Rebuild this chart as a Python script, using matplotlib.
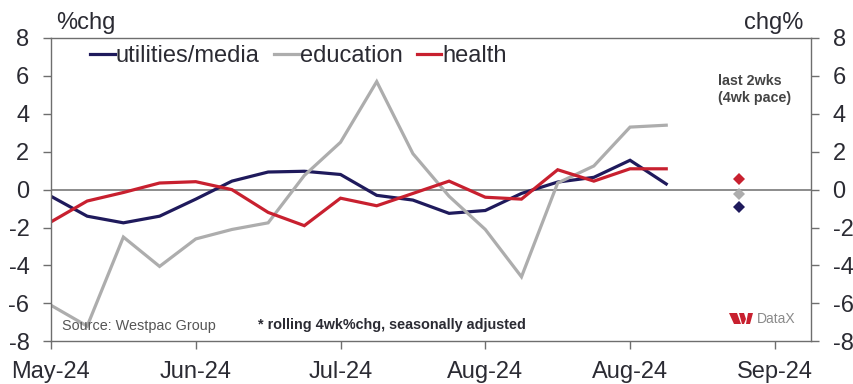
import matplotlib
matplotlib.use('Agg')
import matplotlib.pyplot as plt
from matplotlib.patches import Polygon

plt.rcParams['font.family'] = ['Liberation Sans', 'DejaVu Sans']
plt.rcParams['axes.unicode_minus'] = False

weeks = list(range(18))
utilities = [-0.35, -1.4, -1.75, -1.4, -0.5, 0.45, 0.93, 0.97, 0.8, -0.3, -0.55, -1.25, -1.1, -0.2, 0.4, 0.65, 1.55, 0.3]
education = [-6.1, -7.2, -2.5, -4.05, -2.6, -2.1, -1.75, 0.75, 2.5, 5.7, 1.9, -0.35, -2.1, -4.6, 0.35, 1.25, 3.3, 3.4]
health = [-1.7, -0.6, -0.15, 0.35, 0.42, 0.0, -1.2, -1.9, -0.45, -0.85, -0.2, 0.45, -0.4, -0.5, 1.05, 0.45, 1.1, 1.1]

pace_week = 19
pace_utilities = -0.9
pace_education = -0.25
pace_health = 0.55

month_ticks = [0, 4, 8, 12, 16, 20]
month_labels = ['May-24', 'Jun-24', 'Jul-24', 'Aug-24', 'Aug-24', 'Sep-24']
y_ticks = [-8, -6, -4, -2, 0, 2, 4, 6, 8]

navy = '#1f1a5c'
grey = '#adadad'
red = '#c8202f'
axis_col = '#6e6e6e'
text_col = '#2b2b33'

W, H = 854, 384
fig = plt.figure(figsize=(W / 100, H / 100), dpi=100)
ax = fig.add_axes([51 / W, 1 - 341.3 / H, 760 / W, 303.3 / H])

ax.axhline(0, color=axis_col, lw=1.1, zorder=1)
ax.plot(weeks, utilities, color=navy, lw=2.3, label='utilities/media', solid_joinstyle='miter')
ax.plot(weeks, education, color=grey, lw=2.3, label='education', solid_joinstyle='miter')
ax.plot(weeks, health, color=red, lw=2.3, label='health', solid_joinstyle='miter')

ax.plot(pace_week, pace_health, 'D', color=red, ms=6.5, mew=0)
ax.plot(pace_week, pace_education, 'D', color=grey, ms=6.5, mew=0)
ax.plot(pace_week, pace_utilities, 'D', color=navy, ms=6.5, mew=0)

ax.set_xlim(0, 21)
ax.set_ylim(-8, 8)
ax.set_xticks(month_ticks)
ax.set_xticklabels(month_labels)
ax.set_yticks(y_ticks)
ax.tick_params(axis='x', length=5.5, width=1, color=axis_col, labelsize=17, labelcolor=text_col, pad=9)
ax.tick_params(axis='y', length=5.5, width=1, color=axis_col, labelsize=17, labelcolor=text_col, pad=10)
for s in ax.spines.values():
    s.set_color(axis_col)
    s.set_linewidth(1)

ax2 = ax.twinx()
ax2.set_ylim(-8, 8)
ax2.set_yticks(y_ticks)
ax2.tick_params(axis='y', length=5.5, width=1, color=axis_col, labelsize=17, labelcolor=text_col, pad=10)
for s in ax2.spines.values():
    s.set_visible(False)

ax.legend(loc='upper left', bbox_to_anchor=(0.023, 1.046), ncol=3, frameon=False, fontsize=17,
          handlelength=1.05, handletextpad=0.05, columnspacing=0.6, labelcolor=text_col)

fig.text(56 / W, 1 - 23 / H, '%chg', fontsize=17, color=text_col, va='center')
fig.text(803 / W, 1 - 23 / H, 'chg%', fontsize=17, color=text_col, va='center', ha='right')
fig.text(62 / W, 1 - 326 / H, 'Source: Westpac Group', fontsize=10.4, color='#555555', va='center')
fig.text(258 / W, 1 - 325.5 / H, '* rolling 4wk%chg, seasonally adjusted', fontsize=10.4, fontweight='bold',
         color=text_col, va='center')
fig.text(718 / W, 1 - 81 / H, 'last 2wks', fontsize=10.3, fontweight='bold', color='#444444', va='center')
fig.text(718 / W, 1 - 98 / H, '(4wk pace)', fontsize=10.3, fontweight='bold', color='#444444', va='center')

# westpac logo, roughly
logo = [[(729, 313), (737, 313), (741, 324), (734, 324)],
        [(739, 313), (744, 313), (746, 319), (744, 324), (742, 324)],
        [(746, 324), (748, 313), (753, 313), (750, 324)]]
for pts in logo:
    fig.add_artist(Polygon([(x / W, 1 - y / H) for x, y in pts], closed=True, color=red, lw=0,
                           transform=fig.transFigure))
fig.text(756.5 / W, 1 - 319 / H, 'DataX', fontsize=10, color='#8a8a8a', va='center')

fig.savefig('out.png', dpi=100)
